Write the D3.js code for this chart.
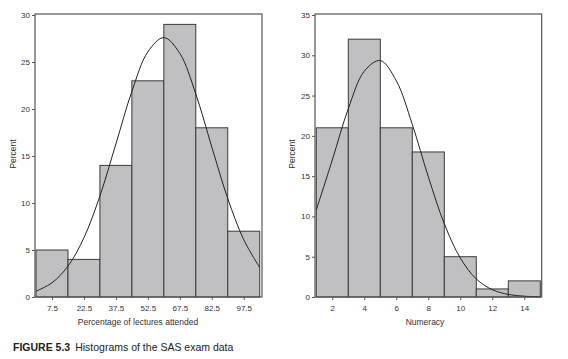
<!DOCTYPE html>
<html><head><meta charset="utf-8">
<script src="https://cdn.jsdelivr.net/npm/d3@7"></script>
<style>
html,body{margin:0;padding:0;background:#fff;}
svg{display:block;}
text{font-family:"Liberation Sans",Arial,sans-serif;fill:#333;}
</style></head>
<body>
<svg id="chart" width="568" height="359"></svg>
<script>
// ---- Data ----
// Left histogram: percentage of lectures attended, bins of width 15 from 0 to 105
const attendBinEdges = [0, 15, 30, 45, 60, 75, 90, 105];
const attendPercent = [5, 4, 14, 23, 29, 18, 7];
const attendTicks = [7.5, 22.5, 37.5, 52.5, 67.5, 82.5, 97.5];
// fitted normal curve (x, percent)
const attendCurveX = [0, 7.5, 15, 22.5, 30, 37.5, 45, 52.5, 60, 67.5, 75, 82.5, 90, 97.5, 105];
const attendCurveY = [0.62, 1.51, 3.28, 6.3, 10.75, 16.28, 21.87, 26.08, 27.6, 25.92, 21.6, 15.97, 10.48, 6.1, 3.14];

// Right histogram: numeracy, bins of width 2 from 1 to 15
const numBinEdges = [1, 3, 5, 7, 9, 11, 13, 15];
const numPercent = [21, 32, 21, 18, 5, 1, 2];
const numTicks = [2, 4, 6, 8, 10, 12, 14];
const numCurveX = [1, 2, 3, 4, 5, 6, 7, 8, 9, 10, 11, 12, 13, 14, 15];
const numCurveY = [10.81, 17.01, 23.37, 28.03, 29.35, 26.83, 21.42, 14.93, 9.09, 4.84, 2.24, 0.91, 0.32, 0.1, 0.03];

const yTicksLeft = [0, 5, 10, 15, 20, 25, 30];
const yTicksRight = [0, 5, 10, 15, 20, 25, 30, 35];

const svg = d3.select("#chart");

function panel(opt) {
  const g = svg.append("g");
  const x = d3.scaleLinear().domain(opt.xDomain).range(opt.xRange);
  const y = d3.scaleLinear().domain([0, opt.yMax]).range([297, 15]);
  const left = opt.frame[0], right = opt.frame[1], top = 14, bottom = 297;

  // bars
  const bins = opt.percent.map((v, i) => ({x0: opt.edges[i], x1: opt.edges[i + 1], v}));
  g.selectAll("rect.bar").data(bins).join("rect")
    .attr("class", "bar")
    .attr("x", d => x(d.x0)).attr("width", d => x(d.x1) - x(d.x0))
    .attr("y", d => y(d.v)).attr("height", d => y(0) - y(d.v))
    .attr("fill", "#c0c0c2").attr("stroke", "#3a3a3a").attr("stroke-width", 1);

  // normal curve
  const pts = opt.curveX.map((cx, i) => [cx, opt.curveY[i]]);
  g.append("path").datum(pts)
    .attr("d", d3.line().x(d => x(d[0])).y(d => y(d[1])).curve(d3.curveCatmullRom.alpha(0.5)))
    .attr("fill", "none").attr("stroke", "#222").attr("stroke-width", 1);

  // frame
  g.append("rect").attr("x", left).attr("y", top)
    .attr("width", right - left).attr("height", bottom - top)
    .attr("fill", "none").attr("stroke", "#555").attr("stroke-width", 1.2);

  // y axis
  const yAxis = d3.axisLeft(y).tickValues(opt.yTicks).tickSize(3).tickPadding(2);
  const ya = g.append("g").attr("transform", `translate(${left},0)`).call(yAxis);
  ya.select(".domain").remove();
  ya.selectAll("line").attr("stroke", "#555");
  ya.selectAll("text").attr("font-size", 8).style("fill", "#333")
    .attr("font-family", "Liberation Sans, Arial, sans-serif");

  // x axis
  const xAxis = d3.axisBottom(x).tickValues(opt.xTicks).tickSize(3).tickPadding(5)
    .tickFormat(opt.fmt);
  const xa = g.append("g").attr("transform", `translate(0,${bottom})`).call(xAxis);
  xa.select(".domain").remove();
  xa.selectAll("line").attr("stroke", "#555");
  xa.selectAll("text").attr("font-size", 8).style("fill", "#333")
    .attr("font-family", "Liberation Sans, Arial, sans-serif");

  // titles
  g.append("text").attr("x", opt.xTitleX).attr("y", 325).attr("text-anchor", "middle")
    .attr("font-size", 8.5).text(opt.xTitle);
  g.append("text").attr("transform", `translate(${opt.yTitleX},154) rotate(-90)`)
    .attr("text-anchor", "middle").attr("font-size", 8.5).text("Percent");
}

panel({
  xDomain: [0, 105], xRange: [36, 259.7], frame: [35, 262], yMax: 30,
  edges: attendBinEdges, percent: attendPercent,
  curveX: attendCurveX, curveY: attendCurveY,
  yTicks: yTicksLeft, xTicks: attendTicks, fmt: d3.format(".1f"),
  xTitle: "Percentage of lectures attended", xTitleX: 138, yTitleX: 16
});

panel({
  xDomain: [1, 15], xRange: [316.3, 540.3], frame: [315, 541.7], yMax: 35,
  edges: numBinEdges, percent: numPercent,
  curveX: numCurveX, curveY: numCurveY,
  yTicks: yTicksRight, xTicks: numTicks, fmt: d3.format("d"),
  xTitle: "Numeracy", xTitleX: 425, yTitleX: 295
});

// caption
const cap = svg.append("text").attr("x", 13).attr("y", 351)
  .attr("font-size", 10.5)
  .attr("font-family", "'Liberation Sans Narrow','Arial Narrow','Liberation Sans',sans-serif");
cap.append("tspan").attr("font-weight", "bold").style("fill", "#222").text("FIGURE 5.3");
cap.append("tspan").attr("dx", 5).style("fill", "#222").text("Histograms of the SAS exam data");
</script>
</body></html>
